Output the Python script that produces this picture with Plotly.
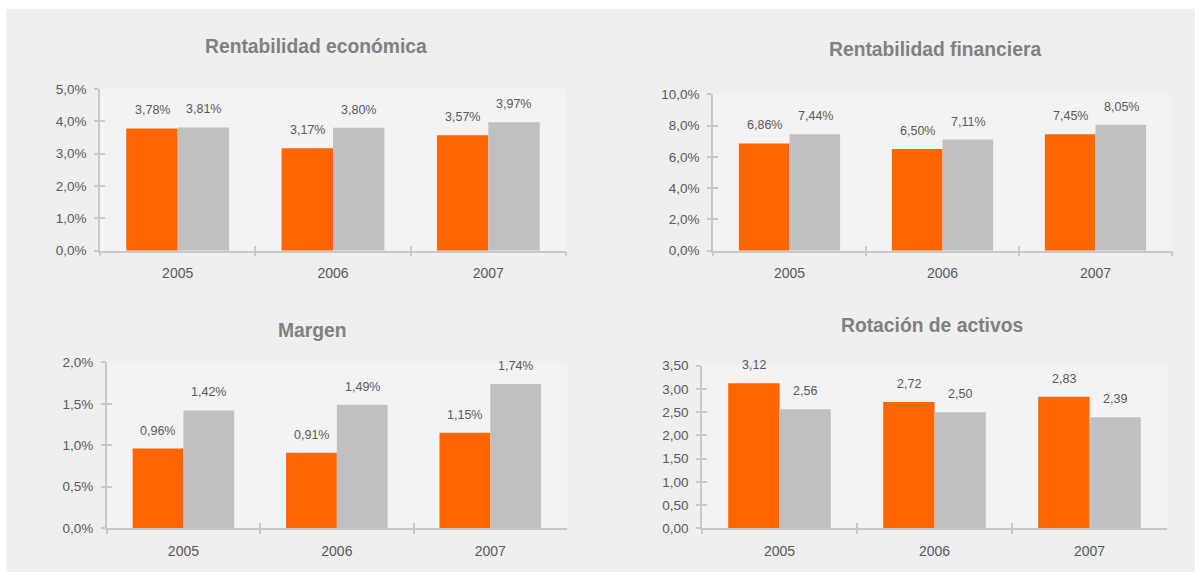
import plotly.graph_objects as go

years = ["2005", "2006", "2007"]

re_a = [3.78, 3.17, 3.57]
re_b = [3.81, 3.80, 3.97]
rf_a = [6.86, 6.50, 7.45]
rf_b = [7.44, 7.11, 8.05]
mg_a = [0.96, 0.91, 1.15]
mg_b = [1.42, 1.49, 1.74]
ra_a = [3.12, 2.72, 2.83]
ra_b = [2.56, 2.50, 2.39]

titles = ["Rentabilidad económica", "Rentabilidad financiera", "Margen", "Rotación de activos"]

W, H = 1195, 572
ORANGE = "#ff6600"
GREY = "#c0c0c0"
TXT = "#595959"
AXC = "#c8c8c8"
FONT = "Liberation Sans, Arial, sans-serif"

panels = [
    dict(a=re_a, b=re_b, pct=True, rng=[0, 5], dtick=1, fmt=".1f",
         px=(100, 566), py=(89, 250.7), title=titles[0], tpos=(315.7, 46.7)),
    dict(a=rf_a, b=rf_b, pct=True, rng=[0, 10], dtick=2, fmt=".1f",
         px=(713, 1172), py=(94.3, 250.7), title=titles[1], tpos=(935.3, 49.3)),
    dict(a=mg_a, b=mg_b, pct=True, rng=[0, 2], dtick=0.5, fmt=".1f",
         px=(106.7, 567), py=(362.4, 528.2), title=titles[2], tpos=(312.3, 330.7)),
    dict(a=ra_a, b=ra_b, pct=False, rng=[0, 3.5], dtick=0.5, fmt=".2f",
         px=(702, 1167), py=(365.7, 528.3), title=titles[3], tpos=(932.3, 325)),
]


def fx(px):
    return px / W


def fy(py):
    return 1 - py / H


fig = go.Figure()
annotations = []
layout = {}


def lab(v, pct):
    s = f"{v:.2f}".replace(".", ",")
    return s + "%" if pct else s


boundaries = [k - 0.5 for k in range(len(years) + 1)]
tick_common = dict(tickcolor=AXC, tickwidth=1.5, showgrid=False, zeroline=False, fixedrange=True)

for i, p in enumerate(panels):
    n = "" if i == 0 else str(i + 1)
    m = str(i + 5)
    xa, ya = "x" + n, "y" + n
    xo, yo = "x" + m, "y" + m
    for vals, col in ((p["a"], ORANGE), (p["b"], GREY)):
        fig.add_trace(go.Bar(x=years, y=vals, marker=dict(color=col, line=dict(width=0)),
                             xaxis=xa, yaxis=ya, showlegend=False, hoverinfo="skip"))
    # empty trace so the overlay axes (inner half of the crossing ticks) are drawn
    fig.add_trace(go.Scatter(x=[], y=[], xaxis=xo, yaxis=yo, showlegend=False, hoverinfo="skip"))
    for vals, shift in ((p["a"], -25.5), (p["b"], 25.5)):
        for k, v in enumerate(vals):
            annotations.append(dict(x=k, y=v, xref=xa, yref=ya, text=lab(v, p["pct"]),
                                    showarrow=False, xshift=shift, yshift=18,
                                    yanchor="middle", xanchor="center",
                                    font=dict(family=FONT, size=12.5, color=TXT)))
    annotations.append(dict(x=fx(p["tpos"][0]), y=fy(p["tpos"][1]), xref="paper", yref="paper",
                            text=p["title"], showarrow=False, xanchor="center", yanchor="middle",
                            font=dict(family=FONT, size=19.3, color="#808080", weight="bold")))
    layout["xaxis" + n] = dict(
        domain=[fx(p["px"][0]), fx(p["px"][1])], anchor=ya, type="category",
        range=[-0.5, len(years) - 0.5], autorange=False, automargin=False,
        tickson="boundaries", ticks="outside", ticklen=4,
        showline=True, linecolor=AXC, linewidth=1.5,
        tickfont=dict(family=FONT, size=14, color=TXT), ticklabelstandoff=9, **tick_common)
    layout["yaxis" + n] = dict(
        domain=[fy(p["py"][1]), fy(p["py"][0])], anchor=xa, range=p["rng"],
        autorange=False, automargin=False,
        dtick=p["dtick"], tick0=0, tickformat=p["fmt"], ticksuffix="%" if p["pct"] else "",
        ticks="outside", ticklen=4,
        showline=True, linecolor=AXC, linewidth=1.5,
        tickfont=dict(family=FONT, size=13.5, color=TXT), ticklabelstandoff=5, **tick_common)
    layout["xaxis" + m] = dict(
        overlaying=xa, anchor=ya, side="bottom", type="linear",
        range=[-0.5, len(years) - 0.5], autorange=False, automargin=False,
        tickmode="array", tickvals=boundaries, ticks="inside", ticklen=5,
        showticklabels=False, showline=False, **tick_common)
    layout["yaxis" + m] = dict(
        overlaying=ya, anchor=xa, side="left", type="linear",
        range=p["rng"], autorange=False, automargin=False,
        dtick=p["dtick"], tick0=0, ticks="inside", ticklen=5,
        showticklabels=False, showline=False, **tick_common)

fig.update_layout(
    width=W, height=H, autosize=False,
    margin=dict(l=0, r=0, t=0, b=0, pad=0, autoexpand=False),
    paper_bgcolor="#efefef", plot_bgcolor="#f3f3f3",
    barmode="group", bargap=0.338, bargroupgap=0,
    separators=",.",
    annotations=annotations,
    shapes=[
        dict(type="rect", xref="paper", yref="paper", x0=0, x1=1, y0=fy(9), y1=1,
             fillcolor="white", line=dict(width=0), layer="above"),
        dict(type="rect", xref="paper", yref="paper", x0=0, x1=fx(6), y0=0, y1=1,
             fillcolor="white", line=dict(width=0), layer="above"),
    ],
    **layout,
)

post = (
    "document.documentElement.style.margin='0';"
    "document.documentElement.style.overflow='hidden';"
    "document.body.style.margin='0';"
    "document.body.style.overflow='hidden';"
    "var g=document.querySelector('.plotly-graph-div');"
    "g.style.position='fixed';g.style.left='0px';g.style.top='0px';"
)
fig.write_html("out.html", config={"displayModeBar": False}, post_script=post)
